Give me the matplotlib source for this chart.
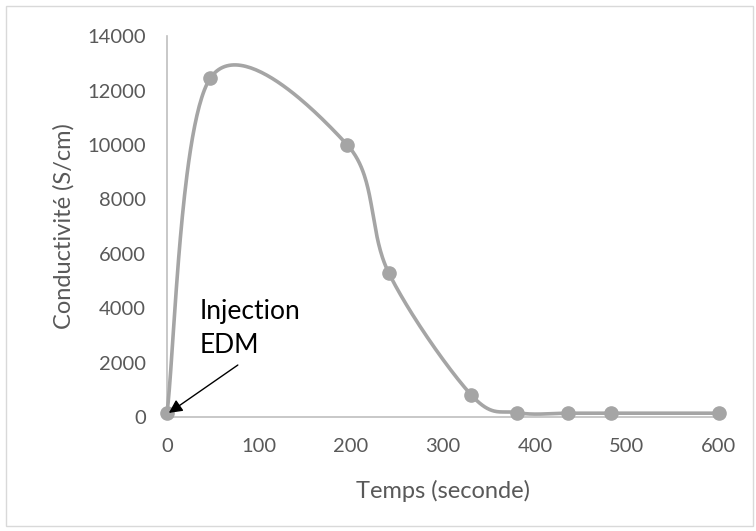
import numpy as np
import matplotlib
matplotlib.use("Agg")
import matplotlib.pyplot as plt
from matplotlib.patches import Rectangle

temps = [0, 47, 196, 241, 331, 381, 436, 483, 600]
conductivite = [150, 12450, 10000, 5300, 800, 160, 140, 140, 140]
xticks = [0, 100, 200, 300, 400, 500, 600]
yticks = [0, 2000, 4000, 6000, 8000, 10000, 12000, 14000]

def excel_smooth(x, y, n=60):
    x = np.asarray(x, float); y = np.asarray(y, float)
    P = np.column_stack([x, y])
    out = []
    N = len(P)
    for i in range(N - 1):
        p0 = P[i - 1] if i > 0 else P[i]
        p1 = P[i]; p2 = P[i + 1]
        p3 = P[i + 2] if i + 2 < N else P[i + 1]
        c1 = p1 + (p2 - p0) / 6.0
        c2 = p2 - (p3 - p1) / 6.0
        t = np.linspace(0, 1, n)[:, None]
        seg = ((1 - t) ** 3) * p1 + 3 * ((1 - t) ** 2) * t * c1 + 3 * (1 - t) * t ** 2 * c2 + t ** 3 * p2
        out.append(seg if i == 0 else seg[1:])
    s = np.vstack(out)
    return s[:, 0], s[:, 1]

plt.rcParams['font.family'] = ['Lato', 'DejaVu Sans']
fig = plt.figure(figsize=(7.56, 5.31), dpi=100)
ax = fig.add_axes([0.2209, 0.2147, 0.951 - 0.2209, 0.932 - 0.2147])

gray = '#A5A5A5'
sx, sy = excel_smooth(temps, conductivite)
ax.plot(sx, sy, color=gray, lw=2.6, solid_capstyle='round', clip_on=False, zorder=3)
ax.plot(temps, conductivite, 'o', color=gray, ms=9.5, clip_on=False, zorder=4)

ax.set_xlim(0, 600)
ax.set_ylim(0, 14000)
ax.set_xticks(xticks)
ax.set_yticks(yticks)
ax.tick_params(axis='y', length=0, labelsize=14.5, colors='#595959', pad=15)
ax.tick_params(axis='x', length=0, labelsize=14.5, colors='#595959', pad=15)
for s in ['top', 'right']:
    ax.spines[s].set_visible(False)
for s in ['left', 'bottom']:
    ax.spines[s].set_color('#BFBFBF')
    ax.spines[s].set_linewidth(1.2)

ax.set_xlabel('Temps (seconde)', fontsize=17, color='#595959', va='center')
ax.set_ylabel('Conductivité (S/cm)', fontsize=17, color='#595959', va='center')
ax.xaxis.set_label_coords(0.5, -0.194)
ax.yaxis.set_label_coords(-0.1866, 0.5)

ax.annotate('', xy=(2, 150), xytext=(77, 1910),
            arrowprops=dict(arrowstyle='-|>', color='black', lw=1, mutation_scale=20,
                            shrinkA=0, shrinkB=0),
            annotation_clip=False, zorder=5)
ax.text(35, 4330, 'Injection\nEDM', fontsize=19, color='black', ha='left', va='top',
        linespacing=1.45, zorder=5)

fig.patches.append(Rectangle((0.008, 0.01), 0.988, 0.978, transform=fig.transFigure,
                             fill=False, edgecolor='#D9D9D9', lw=1))
fig.savefig('out.png', dpi=100)
